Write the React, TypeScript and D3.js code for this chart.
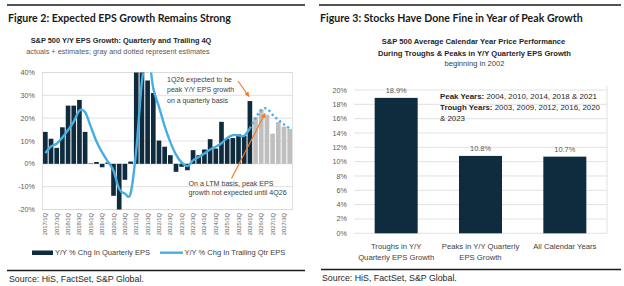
import React from "react";
import * as d3 from "d3";

// ---- Figure 2 data (S&P 500 Y/Y EPS growth, %) ----
const years = ["2017", "2018", "2019", "2020", "2021", "2022", "2023", "2024", "2025", "2026", "2027"];
const quarterNames = ["1Q", "2Q", "3Q", "4Q"];
const quarters = years.flatMap((y) => quarterNames.map((q) => `${y}/${q}`));
const axisLabels = [
  "2017/1Q", "2017/3Q", "2018/1Q", "2018/3Q", "2019/1Q", "2019/3Q", "2020/1Q", "2020/3Q",
  "2021/1Q", "2021/3Q", "2022/1Q", "2022/3Q", "2023/1Q", "2023/3Q", "2024/1Q", "2024/3Q",
  "2025/1Q", "2025/3Q", "2026/1Q", "2026/3Q", "2027/1Q", "2027/3Q",
];
const quarterlyEps = [
  14, 11, 7, 16, 25.5, 25.5, 28, 14,
  0.2, 0.8, -1.5, 0.6, -14, -31, -7, 1,
  52, 90, 36.5, 31, 10.2, 7.5, 3.8, -3.5,
  -1.3, -2.8, 6, 3.8, 6.3, 10.8, 6.7, 18.4,
  11, 11.3, 13, 12.3, 27.5, 20.5, 23.8, 21.5,
  13.2, 18.3, 16.3, 15.3,
];
const trailingEps = [
  4.7, 7.6, 8.8, 11.5, 14.8, 18.5, 23.3, 22.6,
  16.3, 9.8, 5, 1, -3, -11, -13, -13,
  6, 36, 49, 33, 25, 16.5, 9.5, 4,
  0.5, -1, 1.5, 3, 4.5, 6.3, 7.5, 9,
  11.3, 12.6, 12.5, 12.3, 15.5, 20, 23.5, 24.2,
  21.5, 19.3, 17.3, 15.5,
];
const firstEstimate = "2026/2Q";
const epsTicks = [-20, -10, 0, 10, 20, 30, 40];

// ---- Figure 3 data (avg calendar year price performance, %) ----
const perfCategories = ["Troughs", "Peaks", "All"];
const perfLabels = [
  ["Troughs in Y/Y", "Quarterly EPS Growth"],
  ["Peaks in Y/Y Quarterly", "EPS Growth"],
  ["All Calendar Years"],
];
const perfValues = [18.9, 10.8, 10.7];
const perfTicks = [0, 2, 4, 6, 8, 10, 12, 14, 16, 18, 20];

const NAVY = "#0f2c3f";
const GRAY_BAR = "#bfbfbf";
const BLUE = "#46aee2";
const ORANGE = "#ee7d2e";
const GRID = "#d9d9d9";
const AXIS_TXT = "#595959";
const TXT = "#404040";
const FONT = "'Liberation Sans Narrow', 'Liberation Sans', Arial, sans-serif";
const TITLE_FONT = "Lato, 'Liberation Sans', sans-serif";

const fmtPct = (v: number) => `${v}%`;

function EpsChart() {
  const x = d3.scaleBand().domain(quarters).range([42.5, 292.5]).paddingInner(0.18).paddingOuter(0.09);
  const y = d3.scaleLinear().domain([-20, 40]).range([209.5, 72.5]);
  const estIdx = quarters.indexOf(firstEstimate);
  const cx = (q: string) => (x(q) ?? 0) + x.bandwidth() / 2;

  const line = d3
    .line<[string, number]>()
    .x((d) => cx(d[0]))
    .y((d) => y(d[1]))
    .curve(d3.curveCardinal.tension(0));
  const pts: [string, number][] = quarters.map((q, i) => [q, trailingEps[i]]);
  const solidPath = line(pts.slice(0, estIdx)) ?? "";
  const dottedPath = line(pts.slice(estIdx - 1)) ?? "";

  return (
    <g>
      <line x1={7} x2={305} y1={5} y2={5} stroke="#1a1a1a" strokeWidth={1.6} />
      <text x={8} y={22} fontFamily={TITLE_FONT} fontWeight={700} fontSize={10.6} fill="#1a1a1a">
        Figure 2: Expected EPS Growth Remains Strong
      </text>
      <text x={121} y={43} textAnchor="middle" fontFamily={FONT} fontWeight={700} fontSize={7.4} fill="#262626">
        S&amp;P 500 Y/Y EPS Growth: Quarterly and Trailing 4Q
      </text>
      <text x={118} y={53.5} textAnchor="middle" fontFamily={FONT} fontSize={7.3} fill={AXIS_TXT}>
        actuals + estimates; gray and dotted represent estimates
      </text>

      {/* grid + border */}
      {epsTicks.map((t) => (
        <g key={t}>
          <line x1={42.5} x2={292.5} y1={y(t)} y2={y(t)} stroke={GRID} strokeWidth={0.8} />
          <text x={35} y={y(t)} dy="0.35em" textAnchor="end" fontFamily={FONT} fontSize={7.2} fill={AXIS_TXT}>
            {fmtPct(t)}
          </text>
        </g>
      ))}
      <rect x={42.5} y={72.5} width={250} height={137} fill="none" stroke={GRID} strokeWidth={0.8} />

      <defs>
        <clipPath id="epsClip">
          <rect x={42.5} y={72.5} width={250} height={137} />
        </clipPath>
        <marker id="arrowHead" viewBox="0 0 10 10" refX={9} refY={5} markerWidth={5} markerHeight={5} markerUnits="userSpaceOnUse" orient="auto">
          <path d="M0,0 L10,5 L0,10 z" fill={ORANGE} />
        </marker>
      </defs>

      <g clipPath="url(#epsClip)">
        {quarters.map((q, i) => {
          const v = quarterlyEps[i];
          return (
            <rect
              key={q}
              x={x(q)}
              width={x.bandwidth()}
              y={y(Math.max(0, v))}
              height={Math.abs(y(v) - y(0))}
              fill={i >= estIdx ? GRAY_BAR : NAVY}
            />
          );
        })}
        <path d={solidPath} fill="none" stroke={BLUE} strokeWidth={2.4} strokeLinejoin="round" />
        <path d={dottedPath} fill="none" stroke={BLUE} strokeWidth={2.4} strokeDasharray="2.2 2.8" />
      </g>

      {/* x axis labels */}
      {axisLabels.map((l) => (
        <text
          key={l}
          transform={`translate(${cx(l)},213) rotate(-90)`}
          dy="0.35em"
          textAnchor="end"
          fontFamily={FONT}
          fontSize={5.8}
          fill={AXIS_TXT}
        >
          {l}
        </text>
      ))}

      {/* annotations */}
      <text fontFamily={FONT} fontSize={7} fill={TXT}>
        <tspan x={167} y={81.5}>1Q26 expected to be</tspan>
        <tspan x={167} y={92}>peak Y/Y  EPS growth</tspan>
        <tspan x={167} y={102.5}>on a quarterly basis</tspan>
      </text>
      <line x1={238} y1={81} x2={249} y2={96.5} stroke={ORANGE} strokeWidth={1.2} markerEnd="url(#arrowHead)" />
      <text fontFamily={FONT} fontSize={7.1} fill={TXT}>
        <tspan x={188.5} y={185.5}>On a LTM basis, peak EPS</tspan>
        <tspan x={188.5} y={195}>growth not expected until 4Q26</tspan>
      </text>
      <line x1={231.5} y1={178.5} x2={265} y2={113.5} stroke={ORANGE} strokeWidth={1.2} markerEnd="url(#arrowHead)" />

      {/* legend */}
      <rect x={32} y={250.5} width={21} height={4.5} fill={NAVY} />
      <text x={55} y={252.7} dy="0.35em" fontFamily={FONT} fontSize={7.5} fill={TXT}>
        Y/Y % Chg In Quarterly EPS
      </text>
      <line x1={160} x2={183} y1={252.7} y2={252.7} stroke={BLUE} strokeWidth={2.4} />
      <text x={184.5} y={252.7} dy="0.35em" fontFamily={FONT} fontSize={7.5} fill={TXT}>
        Y/Y % Chg In Trailing Qtr EPS
      </text>

      <line x1={7} x2={305} y1={270.5} y2={270.5} stroke="#1a1a1a" strokeWidth={1.4} />
      <text x={9} y={282} fontFamily={FONT} fontSize={8.8} fill="#262626">
        Source: HiS, FactSet, S&amp;P Global.
      </text>
    </g>
  );
}

function PerfChart() {
  const x = d3.scaleBand().domain(perfCategories).range([354, 607]).paddingInner(0.49).paddingOuter(0.245);
  const y = d3.scaleLinear().domain([0, 20]).range([233.3, 90]);
  const cx = (c: string) => (x(c) ?? 0) + x.bandwidth() / 2;

  return (
    <g>
      <line x1={319} x2={621} y1={5} y2={5} stroke="#1a1a1a" strokeWidth={1.6} />
      <text x={320} y={22} fontFamily={TITLE_FONT} fontWeight={700} fontSize={10.6} fill="#1a1a1a">
        Figure 3: Stocks Have Done Fine in Year of Peak Growth
      </text>
      <text textAnchor="middle" fontFamily={FONT} fontWeight={700} fontSize={7.6} fill="#262626">
        <tspan x={473.5} y={44}>S&amp;P 500 Average Calendar Year Price Performance</tspan>
        <tspan x={474.5} y={55.5}>During Troughs &amp; Peaks in Y/Y Quarterly EPS Growth</tspan>
      </text>
      <text x={474.5} y={66} textAnchor="middle" fontFamily={FONT} fontSize={7.6} fill={TXT}>
        beginning in 2002
      </text>

      {perfTicks.map((t) => (
        <g key={t}>
          <line x1={354} x2={607} y1={y(t)} y2={y(t)} stroke={GRID} strokeWidth={0.8} />
          <text x={347} y={y(t)} dy="0.35em" textAnchor="end" fontFamily={FONT} fontSize={7.2} fill={AXIS_TXT}>
            {fmtPct(t)}
          </text>
        </g>
      ))}
      <line x1={607} x2={607} y1={y(20) - 4} y2={y(0)} stroke={GRID} strokeWidth={0.8} />

      {perfCategories.map((c, i) => (
        <g key={c}>
          <rect x={x(c)} width={x.bandwidth()} y={y(perfValues[i])} height={y(0) - y(perfValues[i])} fill={NAVY} />
          <text x={cx(c)} y={y(perfValues[i]) - 5} textAnchor="middle" fontFamily={FONT} fontSize={7.4} fill={AXIS_TXT}>
            {perfValues[i].toFixed(1)}%
          </text>
          <text textAnchor="middle" fontFamily={FONT} fontSize={7.7} fill={TXT}>
            {perfLabels[i].map((l, j) => (
              <tspan key={l} x={cx(c)} y={248.5 + j * 11.3}>
                {l}
              </tspan>
            ))}
          </text>
        </g>
      ))}

      <text fontFamily={FONT} fontSize={7.9} fill="#262626">
        <tspan x={440} y={98.5}>
          <tspan fontWeight={700}>Peak Years: </tspan>2004, 2010, 2014, 2018 &amp; 2021
        </tspan>
        <tspan x={440} y={109.8}>
          <tspan fontWeight={700}>Trough Years: </tspan>2003, 2009, 2012, 2016, 2020
        </tspan>
        <tspan x={440} y={120.8}>&amp; 2023</tspan>
      </text>

      <line x1={321} x2={621} y1={269.5} y2={269.5} stroke="#1a1a1a" strokeWidth={1.4} />
      <text x={322} y={281} fontFamily={FONT} fontSize={8.8} fill="#262626">
        Source: HiS, FactSet, S&amp;P Global.
      </text>
    </g>
  );
}

export default function App() {
  return (
    <svg
      width={624}
      height={286}
      viewBox="0 0 624 286"
      style={{ position: "absolute", left: 0, top: 0, background: "#fff" }}
    >
      <rect width={624} height={286} fill="#fff" />
      <EpsChart />
      <PerfChart />
    </svg>
  );
}
